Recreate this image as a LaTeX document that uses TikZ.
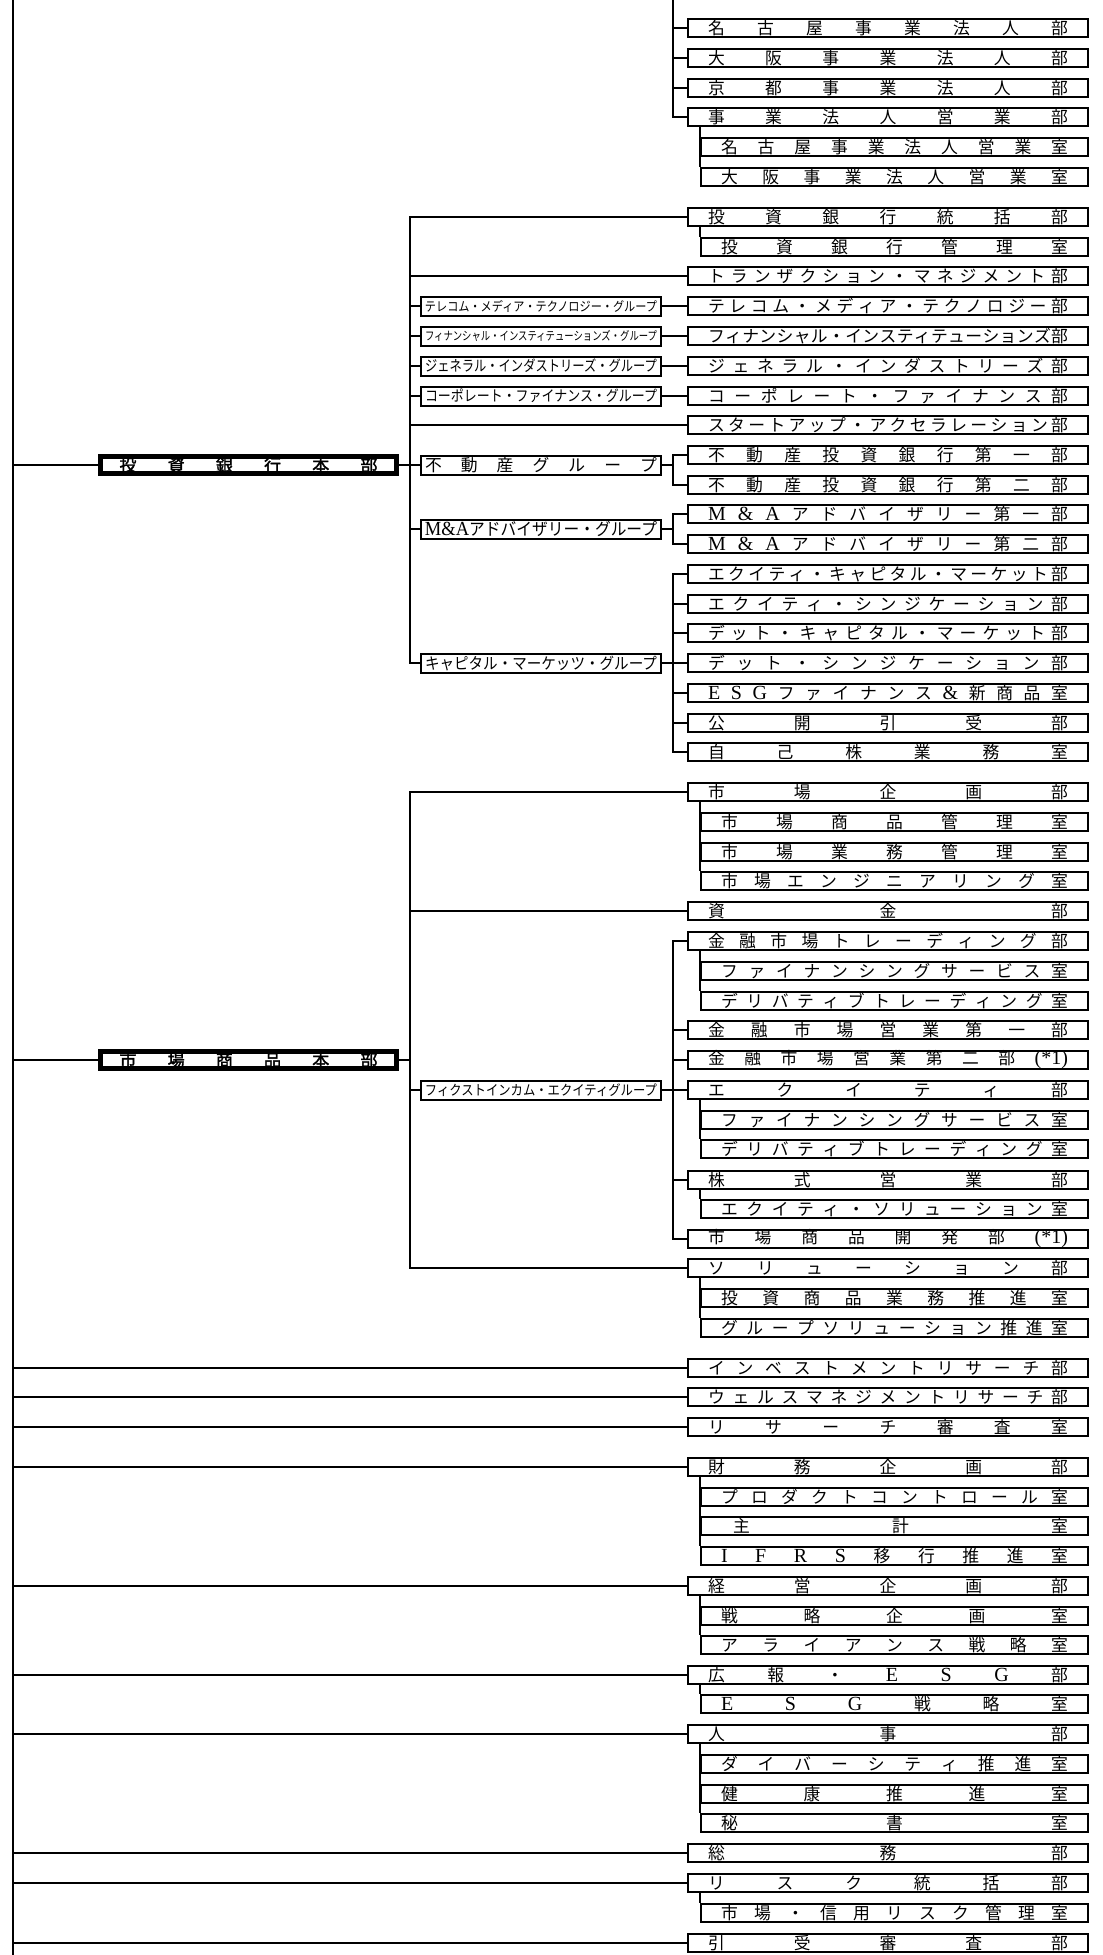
\documentclass[tikz,border=0pt]{standalone}
\usepackage{fontspec}
\usepackage{graphicx}
\newfontfamily\jp{Noto Sans CJK JP}
\newfontfamily\jpb{Noto Sans CJK JP}[FakeBold=2]
\newfontfamily\lat{Liberation Serif}
\newlength\spw
% spread space separated items over the box width
\def\spreadit#1 #2\spstop{#1\if\relax\detokenize{#2}\relax\else\hfill\spreadit#2\spstop\fi}
\newcommand\spr[1]{\makebox[\spw][s]{\spreadit#1 \spstop}}
\newcommand\ltn[1]{{\lat\fontsize{10}{10}\selectfont #1}}
\newcommand\fitg[1]{\resizebox{116pt}{\height}{#1}}

\begin{document}
\begin{tikzpicture}[x=0.5pt,y=-0.5pt,line width=1pt,
    dept/.style={draw,anchor=west,inner sep=0pt,minimum width=200pt,minimum height=9pt,
        font=\jp\fontsize{8.4}{9}\selectfont,execute at begin node={\setlength\spw{180pt}}},
    room/.style={dept,minimum width=193.5pt,execute at begin node={\setlength\spw{173.5pt}}},
    grp/.style={draw,anchor=west,inner sep=0pt,minimum width=120pt,minimum height=9.5pt,
        font=\jp,execute at begin node={\setlength\spw{116pt}}},
    hq/.style={draw,anchor=west,inner sep=0pt,line width=2.5pt,minimum width=148pt,minimum height=8.5pt,
        font=\jpb\fontsize{8.5}{9}\selectfont,execute at begin node={\setlength\spw{129pt}}}]
    \useasboundingbox (0,0) rectangle (1103,1955);

    % top block (continued from the page above)
    \node[dept] (nagoya) at (687,28) {\spr{名 古 屋 事 業 法 人 部}};
    \node[dept] (osaka) at (687,58) {\spr{大 阪 事 業 法 人 部}};
    \node[dept] (kyoto) at (687,88) {\spr{京 都 事 業 法 人 部}};
    \node[dept] (hojin) at (687,117) {\spr{事 業 法 人 営 業 部}};
    \node[room] (nagoyaR) at (700,147) {\spr{名 古 屋 事 業 法 人 営 業 室}};
    \node[room] (osakaR) at (700,177) {\spr{大 阪 事 業 法 人 営 業 室}};

    % investment banking
    \node[hq] (ib) at (98,465) {\spr{投 資 銀 行 本 部}};
    \node[dept] (ibtk) at (687,217) {\spr{投 資 銀 行 統 括 部}};
    \node[room] (ibkr) at (700,247) {\spr{投 資 銀 行 管 理 室}};
    \node[dept] (trans) at (687,276) {\spr{ト ラ ン ザ ク シ ョ ン ・ マ ネ ジ メ ン ト 部}};
    \node[dept] (tmtD) at (687,306) {\spr{テ レ コ ム ・ メ デ ィ ア ・ テ ク ノ ロ ジ ー 部}};
    \node[dept] (fiD) at (687,336) {\spr{フ ィ ナ ン シ ャ ル ・ イ ン ス テ ィ テ ュ ー シ ョ ン ズ 部}};
    \node[dept] (giD) at (687,366) {\spr{ジ ェ ネ ラ ル ・ イ ン ダ ス ト リ ー ズ 部}};
    \node[dept] (cfD) at (687,396) {\spr{コ ー ポ レ ー ト ・ フ ァ イ ナ ン ス 部}};
    \node[dept] (start) at (687,425) {\spr{ス タ ー ト ア ッ プ ・ ア ク セ ラ レ ー シ ョ ン 部}};
    \node[dept] (re1) at (687,455) {\spr{不 動 産 投 資 銀 行 第 一 部}};
    \node[dept] (re2) at (687,485) {\spr{不 動 産 投 資 銀 行 第 二 部}};
    \node[dept] (ma1) at (687,514) {\spr{\ltn{M} \ltn{\&} \ltn{A} ア ド バ イ ザ リ ー 第 一 部}};
    \node[dept] (ma2) at (687,544) {\spr{\ltn{M} \ltn{\&} \ltn{A} ア ド バ イ ザ リ ー 第 二 部}};
    \node[dept] (ecm) at (687,574) {\spr{エ ク イ テ ィ ・ キ ャ ピ タ ル ・ マ ー ケ ッ ト 部}};
    \node[dept] (es) at (687,604) {\spr{エ ク イ テ ィ ・ シ ン ジ ケ ー シ ョ ン 部}};
    \node[dept] (dcm) at (687,633) {\spr{デ ッ ト ・ キ ャ ピ タ ル ・ マ ー ケ ッ ト 部}};
    \node[dept] (ds) at (687,663) {\spr{デ ッ ト ・ シ ン ジ ケ ー シ ョ ン 部}};
    \node[dept] (esgf) at (687,693) {\spr{\ltn{E} \ltn{S} \ltn{G} フ ァ イ ナ ン ス \ltn{\&} 新 商 品 室}};
    \node[dept] (kokai) at (687,723) {\spr{公 開 引 受 部}};
    \node[dept] (jiko) at (687,752) {\spr{自 己 株 業 務 室}};
    \node[grp] (tmtG) at (420,306) {\fitg{\fontsize{6.5}{7}\selectfont テレコム・メディア・テクノロジー・グループ}};
    \node[grp] (fiG) at (420,336) {\fitg{\fontsize{6}{7}\selectfont フィナンシャル・インスティテューションズ・グループ}};
    \node[grp] (giG) at (420,366) {\fitg{\fontsize{7.5}{8}\selectfont ジェネラル・インダストリーズ・グループ}};
    \node[grp] (cfG) at (420,396) {\fitg{\fontsize{7.5}{8}\selectfont コーポレート・ファイナンス・グループ}};
    \node[grp,font=\jp\fontsize{8.4}{9}\selectfont] (reG) at (420,465) {\spr{不 動 産 グ ル ー プ}};
    \node[grp] (maG) at (420,529) {\fitg{\fontsize{8.5}{9}\selectfont\ltn{M\&A}アドバイザリー・グループ}};
    \node[grp] (cmG) at (420,663) {\fitg{\fontsize{8}{9}\selectfont キャピタル・マーケッツ・グループ}};

    % markets
    \node[hq] (mk) at (98,1060) {\spr{市 場 商 品 本 部}};
    \node[dept] (mkkk) at (687,792) {\spr{市 場 企 画 部}};
    \node[room] (mkshk) at (700,822) {\spr{市 場 商 品 管 理 室}};
    \node[room] (mkgym) at (700,852) {\spr{市 場 業 務 管 理 室}};
    \node[room] (mkeng) at (700,881) {\spr{市 場 エ ン ジ ニ ア リ ン グ 室}};
    \node[dept] (shikin) at (687,911) {\spr{資 金 部}};
    \node[dept] (kinyu) at (687,941) {\spr{金 融 市 場 ト レ ー デ ィ ン グ 部}};
    \node[room] (fin1) at (700,971) {\spr{フ ァ イ ナ ン シ ン グ サ ー ビ ス 室}};
    \node[room] (dtr1) at (700,1001) {\spr{デ リ バ テ ィ ブ ト レ ー デ ィ ン グ 室}};
    \node[dept] (eig1) at (687,1030) {\spr{金 融 市 場 営 業 第 一 部}};
    \node[dept] (eig2) at (687,1060) {\spr{金 融 市 場 営 業 第 二 部 \ltn{(*1)}}};
    \node[dept] (equity) at (687,1090) {\spr{エ ク イ テ ィ 部}};
    \node[room] (fin2) at (700,1120) {\spr{フ ァ イ ナ ン シ ン グ サ ー ビ ス 室}};
    \node[room] (dtr2) at (700,1149) {\spr{デ リ バ テ ィ ブ ト レ ー デ ィ ン グ 室}};
    \node[dept] (kabu) at (687,1180) {\spr{株 式 営 業 部}};
    \node[room] (eqsol) at (700,1209) {\spr{エ ク イ テ ィ ・ ソ リ ュ ー シ ョ ン 室}};
    \node[dept] (shohin) at (687,1239) {\spr{市 場 商 品 開 発 部 \ltn{(*1)}}};
    \node[dept] (solu) at (687,1268) {\spr{ソ リ ュ ー シ ョ ン 部}};
    \node[room] (toshi) at (700,1298) {\spr{投 資 商 品 業 務 推 進 室}};
    \node[room] (grpsol) at (700,1328) {\spr{グ ル ー プ ソ リ ュ ー シ ョ ン 推 進 室}};
    \node[grp] (ficcG) at (420,1090) {\fitg{\fontsize{7}{8}\selectfont フィクストインカム・エクイティグループ}};

    % staff departments
    \node[dept] (invest) at (687,1368) {\spr{イ ン ベ ス ト メ ン ト リ サ ー チ 部}};
    \node[dept] (wealth) at (687,1397) {\spr{ウ ェ ル ス マ ネ ジ メ ン ト リ サ ー チ 部}};
    \node[dept] (rsch) at (687,1427) {\spr{リ サ ー チ 審 査 室}};
    \node[dept] (zaimu) at (687,1467) {\spr{財 務 企 画 部}};
    \node[room] (prodc) at (700,1497) {\spr{プ ロ ダ ク ト コ ン ト ロ ー ル 室}};
    \node[room] (shukei) at (700,1526) {\spr{\hspace*{6pt}主 計 室}};
    \node[room] (ifrs) at (700,1556) {\spr{\ltn{I} \ltn{F} \ltn{R} \ltn{S} 移 行 推 進 室}};
    \node[dept] (keiei) at (687,1586) {\spr{経 営 企 画 部}};
    \node[room] (senrk) at (700,1616) {\spr{戦 略 企 画 室}};
    \node[room] (alli) at (700,1645) {\spr{ア ラ イ ア ン ス 戦 略 室}};
    \node[dept] (koho) at (687,1675) {\spr{広 報 ・ \ltn{E} \ltn{S} \ltn{G} 部}};
    \node[room] (esgr) at (700,1704) {\spr{\ltn{E} \ltn{S} \ltn{G} 戦 略 室}};
    \node[dept] (jinji) at (687,1734) {\spr{人 事 部}};
    \node[room] (divr) at (700,1764) {\spr{ダ イ バ ー シ テ ィ 推 進 室}};
    \node[room] (kenko) at (700,1794) {\spr{健 康 推 進 室}};
    \node[room] (hisho) at (700,1823) {\spr{秘 書 室}};
    \node[dept] (somu) at (687,1853) {\spr{総 務 部}};
    \node[dept] (risk) at (687,1883) {\spr{リ ス ク 統 括 部}};
    \node[room] (shinyo) at (700,1913) {\spr{市 場 ・ 信 用 リ ス ク 管 理 室}};
    \node[dept] (hikiuke) at (687,1943) {\spr{引 受 審 査 部}};

    % buses
    \coordinate (top) at (13,0);
    \coordinate (bot) at (13,1955);
    \coordinate (hjbus) at (673,0);
    \coordinate (hqbus) at (410,0);
    \coordinate (gbus) at (673,0);

    % main trunk
    \draw (top) -- (bot);
    \foreach \n in {ib,mk,invest,wealth,rsch,zaimu,keiei,koho,jinji,somu,risk,hikiuke}
        \draw (top |- \n.west) -- (\n.west);

    % top block
    \draw (hjbus) |- (hojin.west);
    \foreach \n in {nagoya,osaka,kyoto}
        \draw (hjbus |- \n.west) -- (\n.west);

    % rooms under their departments
    \foreach \p/\r in {hojin/osakaR,ibtk/ibkr,mkkk/mkeng,kinyu/dtr1,equity/dtr2,kabu/eqsol,
                       solu/grpsol,zaimu/ifrs,keiei/alli,koho/esgr,jinji/hisho,risk/shinyo}
        \draw (\r.west |- \p.south) -- (\r.north west);

    % investment banking
    \draw (ibtk.west) -| (hqbus |- cmG.west) -- (cmG.west);
    \foreach \n in {trans,tmtG,fiG,giG,cfG,start,reG,maG}
        \draw (hqbus |- \n.west) -- (\n.west);
    \draw (ib.east) -- (hqbus |- ib.east);
    \foreach \g/\d in {tmtG/tmtD,fiG/fiD,giG/giD,cfG/cfD,cmG/ds}
        \draw (\g.east) -- (\d.west);
    \draw (re1.west) -| (gbus |- re2.west) -- (re2.west);
    \draw (reG.east) -- (gbus |- reG.east);
    \draw (ma1.west) -| (gbus |- ma2.west) -- (ma2.west);
    \draw (maG.east) -- (gbus |- maG.east);
    \draw (ecm.west) -| (gbus |- jiko.west) -- (jiko.west);
    \foreach \n in {es,dcm,esgf,kokai}
        \draw (gbus |- \n.west) -- (\n.west);

    % markets
    \draw (mkkk.west) -| (hqbus |- solu.west) -- (solu.west);
    \foreach \n in {shikin,ficcG}
        \draw (hqbus |- \n.west) -- (\n.west);
    \draw (mk.east) -- (hqbus |- mk.east);
    \draw (kinyu.west) -| (gbus |- shohin.west) -- (shohin.west);
    \foreach \n in {eig1,eig2,kabu}
        \draw (gbus |- \n.west) -- (\n.west);
    \draw (ficcG.east) -- (equity.west);
\end{tikzpicture}
\end{document}
